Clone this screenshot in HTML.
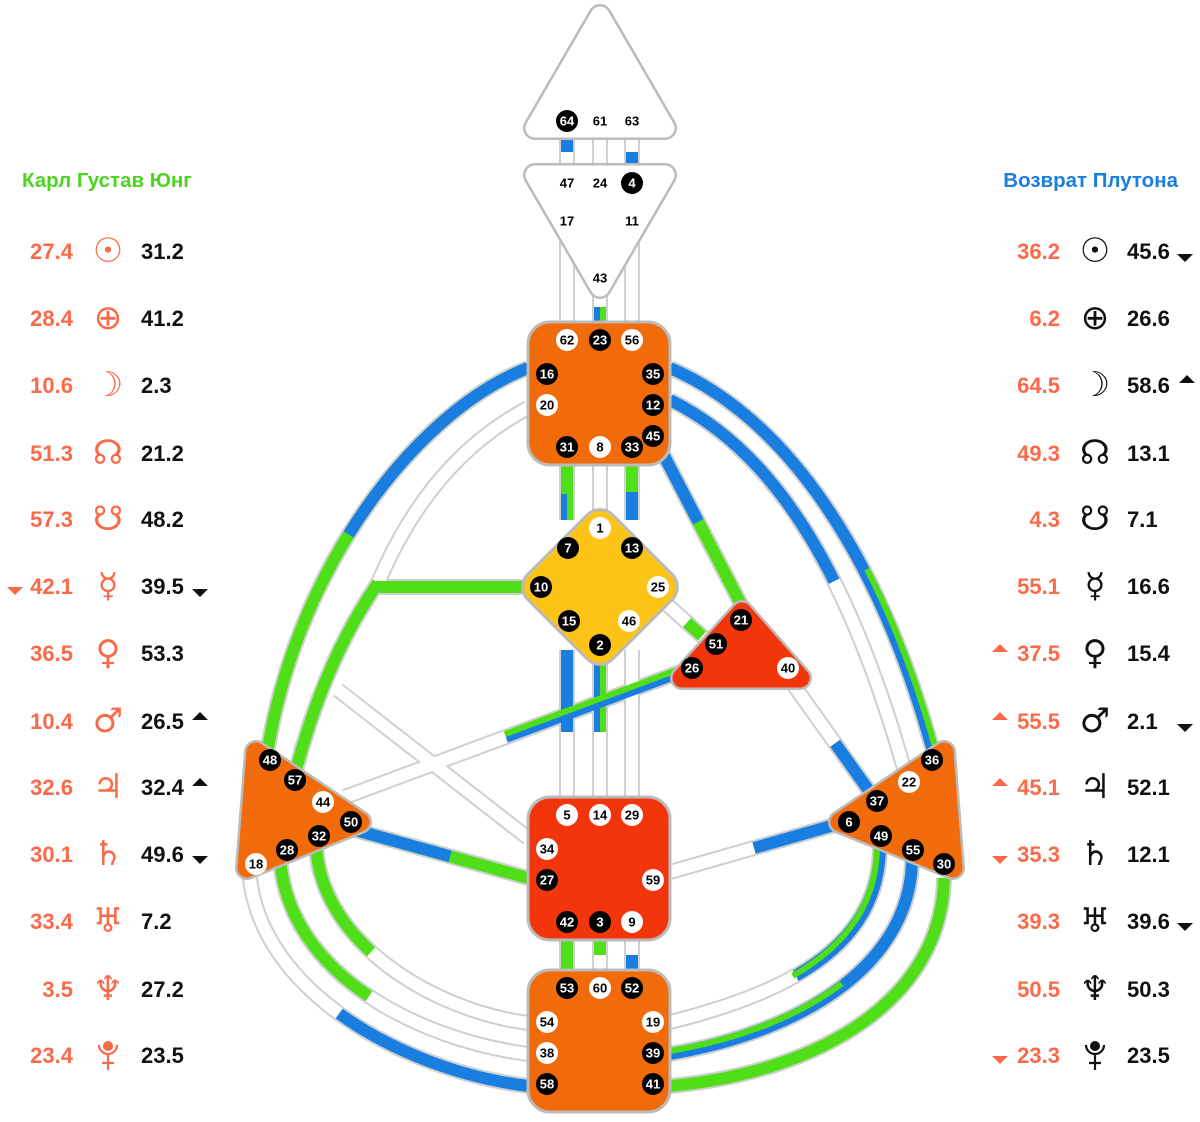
<!DOCTYPE html>
<html><head><meta charset="utf-8"><style>
html,body{margin:0;padding:0;background:#fff;}
svg{display:block}
.ch{fill:none;stroke:#cfcfcf;stroke-width:16}
.cw{fill:none;stroke:#fff;stroke-width:12}
.t{font-family:"Liberation Sans",sans-serif;font-weight:bold}
.g{font-family:"Liberation Sans",sans-serif;font-weight:bold;font-size:13px;text-anchor:middle;dominant-baseline:central}
.r{fill:#fa6a48;font-size:22px;text-anchor:end}
.k{fill:#111;font-size:22px}
.pl{font-family:"DejaVu Sans",sans-serif;font-size:34px;text-anchor:middle;dominant-baseline:central}
</style></head><body>
<svg width="1200" height="1122" viewBox="0 0 1200 1122" xmlns="http://www.w3.org/2000/svg">
<defs>
<path id="p16" pathLength="100" d="M528,368 C 420,410 300,560 268,748"/>
<path id="p20" pathLength="100" d="M528,408 Q 430,460 378,583"/>
<path id="p57" pathLength="100" d="M378,583 Q 325,660 296,770"/>
<path id="p10" pathLength="100" d="M374,587 L 525,587"/>
<path id="p34" pathLength="100" d="M338,690 L 528,838"/>
<path id="p44" pathLength="100" d="M345,797 L 680,672"/>
<path id="p50" pathLength="100" d="M355,830 L 528,878"/>
<path id="p18" pathLength="100" d="M250,878 C 262,990 400,1070 528,1086"/>
<path id="p28" pathLength="100" d="M280,858 C 288,975 420,1040 528,1054"/>
<path id="p32" pathLength="100" d="M316,842 C 318,940 430,1010 528,1023"/>
<path id="p35" pathLength="100" d="M670,368 C 790,420 880,560 932,748"/>
<path id="p12" pathLength="100" d="M670,400 C 770,450 845,560 905,772"/>
<path id="p45" pathLength="100" d="M660,448 L 745,612"/>
<path id="p25" pathLength="100" d="M662,600 L 712,645"/>
<path id="p40" pathLength="100" d="M790,680 L 872,795"/>
<path id="p59" pathLength="100" d="M670,872 L 845,822"/>
<path id="p49" pathLength="100" d="M880,845 C 880,940 800,990 670,1022"/>
<path id="p55" pathLength="100" d="M912,858 C 912,960 810,1030 670,1054"/>
<path id="p30" pathLength="100" d="M944,878 C 942,1000 820,1072 670,1086"/>
<path id="v" d="M567,135 V167 M600,135 V167 M632,135 V167 M567,200 V322 M600,280 V322 M632,200 V322 M567,465 V520 M600,465 V520 M632,465 V520 M567,650 V797 M600,650 V797 M632,650 V797 M567,940 V970 M600,940 V970 M632,940 V970"/>
</defs>

<g>
<use href="#v" class="ch"/>
<use href="#p16" class="ch"/><use href="#p20" class="ch"/><use href="#p57" class="ch"/><use href="#p10" class="ch"/>
<use href="#p34" class="ch"/><use href="#p44" class="ch"/><use href="#p50" class="ch"/><use href="#p18" class="ch"/>
<use href="#p28" class="ch"/><use href="#p32" class="ch"/><use href="#p35" class="ch"/><use href="#p12" class="ch"/>
<use href="#p45" class="ch"/><use href="#p25" class="ch"/><use href="#p40" class="ch"/><use href="#p59" class="ch"/>
<use href="#p49" class="ch"/><use href="#p55" class="ch"/><use href="#p30" class="ch"/>
<use href="#v" class="cw"/>
<use href="#p16" class="cw"/><use href="#p20" class="cw"/><use href="#p57" class="cw"/><use href="#p10" class="cw"/>
<use href="#p34" class="cw"/><use href="#p44" class="cw"/><use href="#p50" class="cw"/><use href="#p18" class="cw"/>
<use href="#p28" class="cw"/><use href="#p32" class="cw"/><use href="#p35" class="cw"/><use href="#p12" class="cw"/>
<use href="#p45" class="cw"/><use href="#p25" class="cw"/><use href="#p40" class="cw"/><use href="#p59" class="cw"/>
<use href="#p49" class="cw"/><use href="#p55" class="cw"/><use href="#p30" class="cw"/>
</g>
<g fill="none" stroke-width="12">
<use href="#p16" stroke="#4fde17"/><use href="#p16" stroke="#1a7ee0" stroke-dasharray="52 100"/>
<use href="#p57" stroke="#4fde17"/>
<use href="#p10" stroke="#4fde17"/>
<use href="#p50" stroke="#4fde17"/><use href="#p50" stroke="#1a7ee0" stroke-dasharray="55 100"/>
<use href="#p18" stroke="#1a7ee0" stroke-dasharray="0 45 55"/>
<use href="#p28" stroke="#4fde17" stroke-dasharray="50 100"/>
<use href="#p32" stroke="#4fde17" stroke-dasharray="42 100"/>
<use href="#p35" stroke="#1a7ee0"/><use href="#p35" stroke="#4fde17" stroke-width="6" transform="translate(3,-1)" stroke-dasharray="0 60 40"/>
<use href="#p12" stroke="#1a7ee0" stroke-dasharray="55 100"/>
<use href="#p45" stroke="#4fde17"/><use href="#p45" stroke="#1a7ee0" stroke-dasharray="45 100"/>
<use href="#p25" stroke="#4fde17" stroke-dasharray="0 50 30 100"/>
<use href="#p40" stroke="#1a7ee0" stroke-dasharray="0 55 45"/>
<use href="#p59" stroke="#1a7ee0" stroke-dasharray="0 48 52"/>
<use href="#p49" stroke="#1a7ee0" stroke-dasharray="55 100"/><use href="#p49" stroke="#4fde17" stroke-width="6" transform="translate(-3,0)" stroke-dasharray="55 100"/>
<use href="#p55" stroke="#1a7ee0"/><use href="#p55" stroke="#4fde17" stroke-width="6" transform="translate(0,-3)" stroke-dasharray="0 45 55"/>
<use href="#p30" stroke="#4fde17"/>
</g>
<g>
<rect x="561" y="138" width="12" height="14" fill="#1a7ee0"/>
<rect x="626" y="152" width="12" height="14" fill="#1a7ee0"/>
<rect x="594" y="307" width="6" height="15" fill="#1a7ee0"/><rect x="600" y="307" width="6" height="15" fill="#4fde17"/>
<rect x="561" y="465" width="12" height="29" fill="#4fde17"/>
<rect x="561" y="494" width="6" height="26" fill="#1a7ee0"/><rect x="567" y="494" width="6" height="26" fill="#4fde17"/>
<rect x="626" y="465" width="12" height="27" fill="#4fde17"/><rect x="626" y="492" width="12" height="28" fill="#1a7ee0"/>
<rect x="561" y="650" width="12" height="82" fill="#1a7ee0"/>
<rect x="594" y="650" width="6" height="82" fill="#1a7ee0"/><rect x="600" y="650" width="6" height="82" fill="#4fde17"/>
<rect x="561" y="940" width="12" height="30" fill="#4fde17"/>
<rect x="594" y="940" width="12" height="15" fill="#4fde17"/>
<rect x="626" y="955" width="12" height="15" fill="#1a7ee0"/>
</g>
<g fill="none">
<use href="#p44" stroke="#4fde17" stroke-width="6" transform="translate(-1,-2.8)" stroke-dasharray="0 48 52"/>
<use href="#p44" stroke="#1a7ee0" stroke-width="6" transform="translate(1,2.8)" stroke-dasharray="0 48 52"/>
</g>

<g stroke-linejoin="round">
<polygon points="600,16 665,128 535,128" fill="#bbb" stroke="#bbb" stroke-width="24"/>
<polygon points="600,16 665,128 535,128" fill="#fff" stroke="#fff" stroke-width="19"/>
<polygon points="535,175 665,175 600,287" fill="#bbb" stroke="#bbb" stroke-width="24"/>
<polygon points="535,175 665,175 600,287" fill="#fff" stroke="#fff" stroke-width="19"/>
<rect x="528" y="322" width="142" height="143" rx="22" fill="#f26b0a" stroke="#bbb" stroke-width="3"/>
<rect x="540" y="527" width="120" height="120" rx="18" fill="#fdc316" stroke="#bbb" stroke-width="3" transform="rotate(45 600 587)"/>
<polygon points="742,612 800,678 682,678" fill="#bbb" stroke="#bbb" stroke-width="24"/>
<polygon points="742,612 800,678 682,678" fill="#f2350a" stroke="#f2350a" stroke-width="19"/>
<rect x="528" y="797" width="142" height="143" rx="22" fill="#f2350a" stroke="#bbb" stroke-width="3"/>
<rect x="528" y="970" width="142" height="142" rx="22" fill="#f26b0a" stroke="#bbb" stroke-width="3"/>
<polygon points="256,752 360,822 247,868" fill="#bbb" stroke="#bbb" stroke-width="24"/>
<polygon points="256,752 360,822 247,868" fill="#f26b0a" stroke="#f26b0a" stroke-width="19"/>
<polygon points="944,752 840,822 953,868" fill="#bbb" stroke="#bbb" stroke-width="24"/>
<polygon points="944,752 840,822 953,868" fill="#f26b0a" stroke="#f26b0a" stroke-width="19"/>
</g>

<g class="g">
<circle cx="567" cy="121" r="11" fill="#000"/><text x="567" y="121" fill="#fff">64</text>
<text x="600" y="121">61</text><text x="632" y="121">63</text>
<text x="567" y="183">47</text><text x="600" y="183">24</text>
<circle cx="632" cy="183" r="11" fill="#000"/><text x="632" y="183" fill="#fff">4</text>
<text x="567" y="221">17</text><text x="632" y="221">11</text><text x="600" y="278">43</text>
</g>
<g class="g">
<circle cx="567" cy="340" r="11" fill="#fff"/><text x="567" y="340">62</text>
<circle cx="600" cy="340" r="11"/><text x="600" y="340" fill="#fff">23</text>
<circle cx="632" cy="340" r="11" fill="#fff"/><text x="632" y="340">56</text>
<circle cx="547" cy="374" r="11"/><text x="547" y="374" fill="#fff">16</text>
<circle cx="653" cy="374" r="11"/><text x="653" y="374" fill="#fff">35</text>
<circle cx="547" cy="405" r="11" fill="#fff"/><text x="547" y="405">20</text>
<circle cx="653" cy="405" r="11"/><text x="653" y="405" fill="#fff">12</text>
<circle cx="653" cy="436" r="11"/><text x="653" y="436" fill="#fff">45</text>
<circle cx="567" cy="447" r="11"/><text x="567" y="447" fill="#fff">31</text>
<circle cx="600" cy="447" r="11" fill="#fff"/><text x="600" y="447">8</text>
<circle cx="632" cy="447" r="11"/><text x="632" y="447" fill="#fff">33</text>
<circle cx="600" cy="528" r="11" fill="#fff"/><text x="600" y="528">1</text>
<circle cx="568" cy="548" r="11"/><text x="568" y="548" fill="#fff">7</text>
<circle cx="632" cy="548" r="11"/><text x="632" y="548" fill="#fff">13</text>
<circle cx="541" cy="587" r="11"/><text x="541" y="587" fill="#fff">10</text>
<circle cx="658" cy="587" r="11" fill="#fff"/><text x="658" y="587">25</text>
<circle cx="569" cy="621" r="11"/><text x="569" y="621" fill="#fff">15</text>
<circle cx="629" cy="621" r="11" fill="#fff"/><text x="629" y="621">46</text>
<circle cx="600" cy="645" r="11"/><text x="600" y="645" fill="#fff">2</text>
<circle cx="741" cy="620" r="11"/><text x="741" y="620" fill="#fff">21</text>
<circle cx="716" cy="644" r="11"/><text x="716" y="644" fill="#fff">51</text>
<circle cx="692" cy="668" r="11"/><text x="692" y="668" fill="#fff">26</text>
<circle cx="788" cy="668" r="11" fill="#fff"/><text x="788" y="668">40</text>
<circle cx="270" cy="760" r="11"/><text x="270" y="760" fill="#fff">48</text>
<circle cx="295" cy="780" r="11"/><text x="295" y="780" fill="#fff">57</text>
<circle cx="323" cy="802" r="11" fill="#fff"/><text x="323" y="802">44</text>
<circle cx="351" cy="822" r="11"/><text x="351" y="822" fill="#fff">50</text>
<circle cx="319" cy="836" r="11"/><text x="319" y="836" fill="#fff">32</text>
<circle cx="287" cy="850" r="11"/><text x="287" y="850" fill="#fff">28</text>
<circle cx="256" cy="864" r="11" fill="#fff"/><text x="256" y="864">18</text>
<circle cx="932" cy="760" r="11"/><text x="932" y="760" fill="#fff">36</text>
<circle cx="909" cy="782" r="11" fill="#fff"/><text x="909" y="782">22</text>
<circle cx="877" cy="801" r="11"/><text x="877" y="801" fill="#fff">37</text>
<circle cx="849" cy="822" r="11"/><text x="849" y="822" fill="#fff">6</text>
<circle cx="881" cy="836" r="11"/><text x="881" y="836" fill="#fff">49</text>
<circle cx="913" cy="850" r="11"/><text x="913" y="850" fill="#fff">55</text>
<circle cx="944" cy="864" r="11"/><text x="944" y="864" fill="#fff">30</text>
<circle cx="567" cy="815" r="11" fill="#fff"/><text x="567" y="815">5</text>
<circle cx="600" cy="815" r="11" fill="#fff"/><text x="600" y="815">14</text>
<circle cx="632" cy="815" r="11" fill="#fff"/><text x="632" y="815">29</text>
<circle cx="547" cy="849" r="11" fill="#fff"/><text x="547" y="849">34</text>
<circle cx="547" cy="880" r="11"/><text x="547" y="880" fill="#fff">27</text>
<circle cx="653" cy="880" r="11" fill="#fff"/><text x="653" y="880">59</text>
<circle cx="567" cy="922" r="11"/><text x="567" y="922" fill="#fff">42</text>
<circle cx="600" cy="922" r="11"/><text x="600" y="922" fill="#fff">3</text>
<circle cx="632" cy="922" r="11" fill="#fff"/><text x="632" y="922">9</text>
<circle cx="567" cy="988" r="11"/><text x="567" y="988" fill="#fff">53</text>
<circle cx="600" cy="988" r="11" fill="#fff"/><text x="600" y="988">60</text>
<circle cx="632" cy="988" r="11"/><text x="632" y="988" fill="#fff">52</text>
<circle cx="547" cy="1022" r="11" fill="#fff"/><text x="547" y="1022">54</text>
<circle cx="653" cy="1022" r="11" fill="#fff"/><text x="653" y="1022">19</text>
<circle cx="547" cy="1053" r="11" fill="#fff"/><text x="547" y="1053">38</text>
<circle cx="653" cy="1053" r="11"/><text x="653" y="1053" fill="#fff">39</text>
<circle cx="547" cy="1084" r="11"/><text x="547" y="1084" fill="#fff">58</text>
<circle cx="653" cy="1084" r="11"/><text x="653" y="1084" fill="#fff">41</text>
</g>

<text class="t" x="22" y="187" font-size="20.5" fill="#4cd41e">Карл Густав Юнг</text>
<text class="t" x="1178" y="187" font-size="20.5" fill="#1a7ee0" text-anchor="end">Возврат Плутона</text>

<g class="t">
<text class="r" x="73" y="259">27.4</text><text class="k" x="141" y="259">31.2</text>
<text class="r" x="73" y="326">28.4</text><text class="k" x="141" y="326">41.2</text>
<text class="r" x="73" y="393">10.6</text><text class="k" x="141" y="393">2.3</text>
<text class="r" x="73" y="461">51.3</text><text class="k" x="141" y="461">21.2</text>
<text class="r" x="73" y="527">57.3</text><text class="k" x="141" y="527">48.2</text>
<text class="r" x="73" y="594">42.1</text><text class="k" x="141" y="594">39.5</text>
<text class="r" x="73" y="661">36.5</text><text class="k" x="141" y="661">53.3</text>
<text class="r" x="73" y="729">10.4</text><text class="k" x="141" y="729">26.5</text>
<text class="r" x="73" y="795">32.6</text><text class="k" x="141" y="795">32.4</text>
<text class="r" x="73" y="862">30.1</text><text class="k" x="141" y="862">49.6</text>
<text class="r" x="73" y="929">33.4</text><text class="k" x="141" y="929">7.2</text>
<text class="r" x="73" y="997">3.5</text><text class="k" x="141" y="997">27.2</text>
<text class="r" x="73" y="1063">23.4</text><text class="k" x="141" y="1063">23.5</text>
</g>
<g class="pl" fill="#fa6a48">
<text x="108" y="251">☉</text><text x="108" y="318">⊕</text><text x="108" y="385">☽</text><text x="108" y="453">☊</text>
<text x="108" y="519">☋</text><text x="108" y="586">☿</text><text x="108" y="653">♀</text><text x="108" y="721">♂</text>
<text x="108" y="787">♃</text><text x="108" y="854">♄</text><text x="108" y="921">♅</text><text x="108" y="989">♆</text>
</g>
<g stroke="#fa6a48" stroke-width="2.2" fill="none">
<circle cx="108" cy="1046" r="5" fill="#fa6a48" stroke="none"/>
<path d="M99,1045 A9,9 0 0 0 117,1045"/><path d="M108,1054 V1070 M102,1063 H114"/>
</g>
<g class="t">
<text class="r" x="1060" y="259">36.2</text><text class="k" x="1127" y="259">45.6</text>
<text class="r" x="1060" y="326">6.2</text><text class="k" x="1127" y="326">26.6</text>
<text class="r" x="1060" y="393">64.5</text><text class="k" x="1127" y="393">58.6</text>
<text class="r" x="1060" y="461">49.3</text><text class="k" x="1127" y="461">13.1</text>
<text class="r" x="1060" y="527">4.3</text><text class="k" x="1127" y="527">7.1</text>
<text class="r" x="1060" y="594">55.1</text><text class="k" x="1127" y="594">16.6</text>
<text class="r" x="1060" y="661">37.5</text><text class="k" x="1127" y="661">15.4</text>
<text class="r" x="1060" y="729">55.5</text><text class="k" x="1127" y="729">2.1</text>
<text class="r" x="1060" y="795">45.1</text><text class="k" x="1127" y="795">52.1</text>
<text class="r" x="1060" y="862">35.3</text><text class="k" x="1127" y="862">12.1</text>
<text class="r" x="1060" y="929">39.3</text><text class="k" x="1127" y="929">39.6</text>
<text class="r" x="1060" y="997">50.5</text><text class="k" x="1127" y="997">50.3</text>
<text class="r" x="1060" y="1063">23.3</text><text class="k" x="1127" y="1063">23.5</text>
</g>
<g class="pl" fill="#111">
<text x="1095" y="251">☉</text><text x="1095" y="318">⊕</text><text x="1095" y="385">☽</text><text x="1095" y="453">☊</text>
<text x="1095" y="519">☋</text><text x="1095" y="586">☿</text><text x="1095" y="653">♀</text><text x="1095" y="721">♂</text>
<text x="1095" y="787">♃</text><text x="1095" y="854">♄</text><text x="1095" y="921">♅</text><text x="1095" y="989">♆</text>
</g>
<g stroke="#111" stroke-width="2.2" fill="none">
<circle cx="1095" cy="1046" r="5" fill="#111" stroke="none"/>
<path d="M1086,1045 A9,9 0 0 0 1104,1045"/><path d="M1095,1054 V1070 M1089,1063 H1101"/>
</g>
<g>
<polygon points="7,587 23,587 15,595" fill="#fa6a48"/>
<polygon points="192,589 208,589 200,597" fill="#111"/>
<polygon points="192,720 208,720 200,712" fill="#111"/>
<polygon points="192,786 208,786 200,778" fill="#111"/>
<polygon points="192,856 208,856 200,864" fill="#111"/>
<polygon points="1177,254 1193,254 1185,262" fill="#111"/>
<polygon points="1179,383 1195,383 1187,375" fill="#111"/>
<polygon points="992,652 1008,652 1000,644" fill="#fa6a48"/>
<polygon points="992,720 1008,720 1000,712" fill="#fa6a48"/>
<polygon points="1177,724 1193,724 1185,732" fill="#111"/>
<polygon points="992,786 1008,786 1000,778" fill="#fa6a48"/>
<polygon points="992,856 1008,856 1000,864" fill="#fa6a48"/>
<polygon points="1177,923 1193,923 1185,931" fill="#111"/>
<polygon points="992,1056 1008,1056 1000,1064" fill="#fa6a48"/>
</g>
</svg>
</body></html>
